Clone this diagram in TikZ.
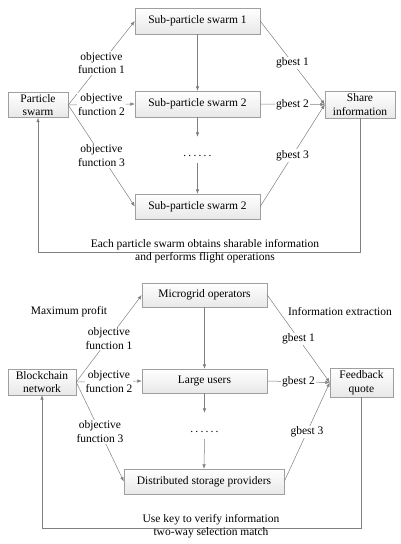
\documentclass[tikz,border=0pt]{standalone}
\usepackage{fontspec}
\setmainfont{Liberation Serif}
\usetikzlibrary{positioning, arrows.meta}
\tikzset{
	every node/.append style={
		font=\fontsize{11.5}{13.5}\selectfont,
	},
	block/.append style={
		draw=gray!75,
		top color=white,
		bottom color=gray!18,
		align = center,
		inner sep=1pt,
	},
	labe/.append style={
		fill=white,
		align = center,
		inner sep=1pt,
	},
	dotsbox/.append style={
		text height=16pt,
		text depth=4pt,
		inner sep=3pt,
	}
}

\begin{document}
\begin{tikzpicture}[x=1pt, y=-1pt,
	conn/.style = {draw=gray, line width=0.5pt, -{Latex[length=4.5pt,width=3.5pt]}},
	link/.style = {draw=gray, line width=0.5pt}
	]
	\useasboundingbox (0,0) rectangle (400,544);

	% upper part: particle swarms
	\node[block, minimum width=125pt, minimum height=26pt] (sub1) at (197.5,21) {Sub-particle swarm 1};
	\node[block, minimum width=125pt, minimum height=26pt] (sub2) at (197.5,104) {Sub-particle swarm 2};
	\node[dotsbox] (dots1) at (197.5,150) {.\kern2.2pt.\kern2.2pt.\kern2.2pt.\kern2.2pt.\kern2.2pt.};
	\node[block, minimum width=125pt, minimum height=25pt] (sub3) at (197.5,206.5) {Sub-particle swarm 2};
	\node[block, minimum width=60pt, minimum height=25pt] (swarm) at (38,105) {Particle\\swarm};
	\node[block, minimum width=70pt, minimum height=27pt] (share) at (360,104.5) {Share\\information};

	\draw[conn] (swarm.east) -- node[labe] {objective\\function 1} (sub1.west);
	\draw[conn] (swarm.east) -- node[labe] {objective\\function 2} (sub2.west);
	\draw[conn] (swarm.east) -- node[labe] {objective\\function 3} (sub3.west);

	\draw[conn] (sub1.south) to (sub2.north);
	\draw[conn] (sub2.south) to (dots1.north);
	\draw[conn] (dots1.south) to (sub3.north);

	\draw[conn] (sub1.east) -- node[labe] {gbest 1} (share.west);
	\draw[conn] (sub2.east) -- node[labe] {gbest 2} (share.west);
	\draw[conn] (sub3.east) -- node[labe] {gbest 3} (share.west);

	\coordinate (loop1) at (360,252);
	\draw[conn] (share.south) -- (loop1) -| (swarm.south);
	\node[align=center, inner sep=0pt] (note1) at (205,251) {Each particle swarm obtains sharable information\\and performs flight operations};

	% lower part: blockchain trading
	\node[block, minimum width=125pt, minimum height=24pt] (micro) at (204.5,295) {Microgrid operators};
	\node[block, minimum width=125pt, minimum height=24pt] (large) at (204.5,381) {Large users};
	\node[dotsbox] (dots2) at (204.5,426) {.\kern2.2pt.\kern2.2pt.\kern2.2pt.\kern2.2pt.\kern2.2pt.};
	\node[block, minimum width=160pt, minimum height=25pt] (store) at (204,481.5) {Distributed storage providers};
	\node[block, minimum width=68pt, minimum height=26pt] (chain) at (42,382) {Blockchain\\network};
	\node[block, minimum width=63pt, minimum height=29pt] (quote) at (361.5,382.5) {Feedback\\quote};

	\node (profit) at (69,312) {Maximum profit};
	\node (extract) at (340,312) {Information extraction};

	\draw[conn] (chain.east) -- node[labe] {objective\\function 1} (micro.west);
	\draw[conn] (chain.east) -- node[labe] {objective\\function 2} (large.west);
	\draw[conn] (chain.east) -- node[labe] {objective\\function 3} (store.west);

	\draw[conn] (micro.south) to (large.north);
	\draw[conn] (large.south) to (dots2.north);
	\draw[conn] (dots2.south) to (store.north);

	\draw[conn] (micro.east) -- node[labe] {gbest 1} (quote.west);
	\draw[conn] (large.east) -- node[labe] {gbest 2} (quote.west);
	\draw[conn] (store.east) -- node[labe] {gbest 3} (quote.west);

	\coordinate (loop2) at (361.5,528);
	\draw[conn] (quote.south) -- (loop2) -| (chain.south);
	\node[align=center, inner sep=0pt] (note2) at (211,526) {Use key to verify information\\two-way selection match};

\end{tikzpicture}
\end{document}
